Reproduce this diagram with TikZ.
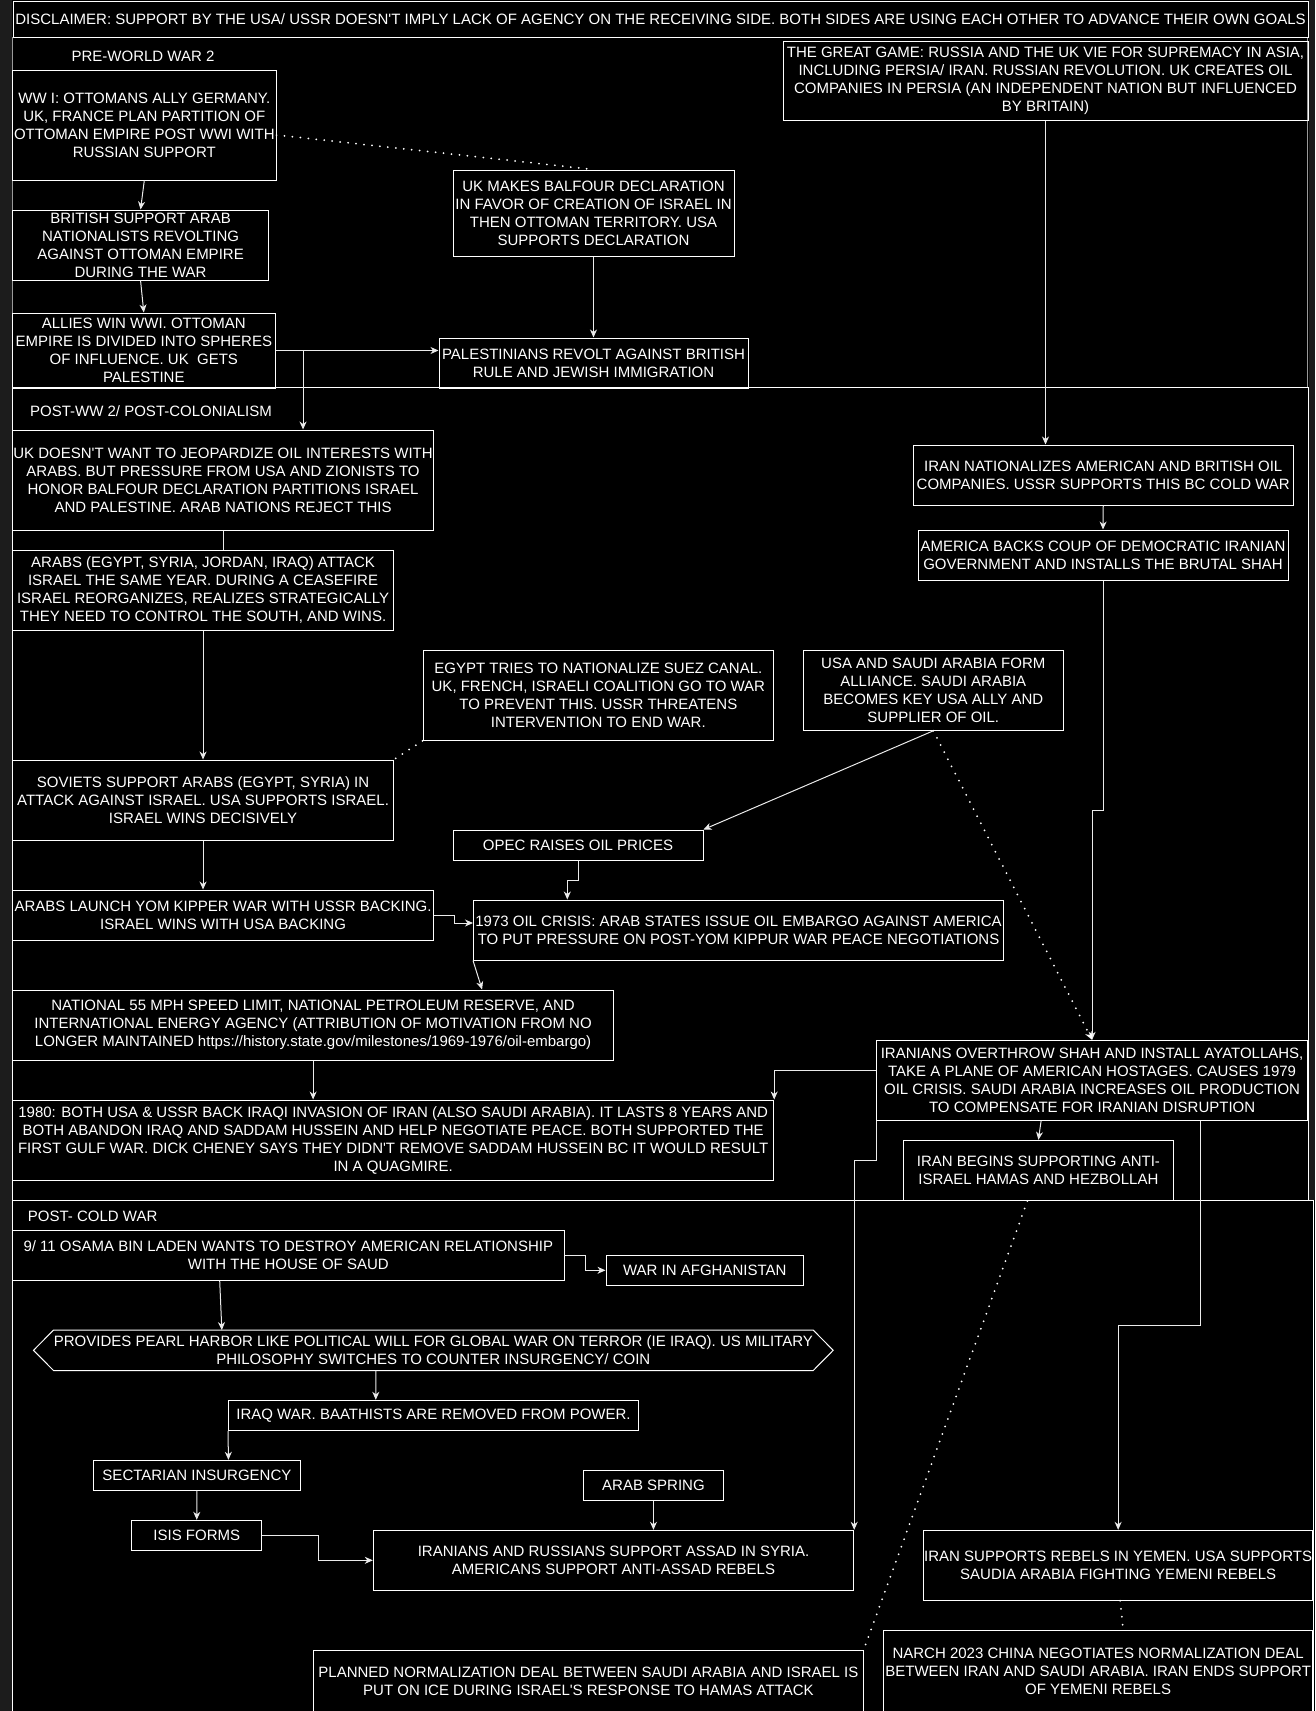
\documentclass[tikz,border=0pt]{standalone}
\usepackage{fontspec}
\setmainfont{Liberation Sans}[Ligatures=TeXOff]
\usetikzlibrary{arrows.meta,calc}
\definecolor{stripc}{HTML}{1C1C1C}
\definecolor{secgray}{HTML}{9A9A9A}
\definecolor{lnc}{HTML}{EBEBEB}
\tikzset{
  box/.style={draw=white, line width=1pt, text=white, align=center, inner sep=0pt, font=\fontsize{15}{18}\selectfont},
  lbl/.style={text=white, inner sep=0pt, align=center, font=\fontsize{15}{18}\selectfont},
  arr/.style={draw=lnc, line width=1pt, -{Stealth[length=8pt,width=7pt,inset=2.5pt]}},
  ln/.style={draw=lnc, line width=1pt},
  dots/.style={draw=white, line width=2pt, line cap=round, dash pattern=on 0pt off 8pt},
  dotsarr/.style={dots, -{Stealth[length=8pt,width=7pt,inset=2.5pt]}},
}
\newcommand\bx[6]{\node[box, minimum width={#4-#2}, minimum height={#5-#3}] (#1) at ({(#2+#4)/2},{(#3+#5)/2}) {#6};}
\begin{document}
\begin{tikzpicture}[x=1pt,y=-1pt]
\useasboundingbox (0,0) rectangle (1315,1711);
\fill[black] (0,0) rectangle (1315,1711);
\fill[stripc] (0,0) rectangle (12,1711);
\fill[stripc] (1309,0) rectangle (1315,1200);

% sections
\draw[secgray, line width=1pt] (12,37.5) rectangle (1307,387.7);
\draw[white, line width=1pt] (12,387.7) rectangle (1308.3,1200);
\draw[white, line width=1pt] (12,1200) rectangle (1313.3,1725);

% disclaimer
\bx{disc}{13}{1}{1308}{37}{DISCLAIMER: SUPPORT BY THE USA/ USSR DOESN'T IMPLY LACK OF AGENCY ON THE RECEIVING SIDE. BOTH SIDES ARE USING EACH OTHER TO ADVANCE THEIR OWN GOALS}

% labels
\node[lbl] (l1) at (143,56) {PRE-WORLD WAR 2};
\node[lbl] (l2) at (151,411) {POST-WW 2/ POST-COLONIALISM};
\node[lbl] (l3) at (92.6,1216) {POST- COLD WAR};

% pre-WW2
\bx{ww1}{12.6}{70}{276}{180}{WW I: OTTOMANS ALLY GERMANY.\\UK, FRANCE PLAN PARTITION OF\\OTTOMAN EMPIRE POST WWI WITH\\RUSSIAN SUPPORT}
\bx{brit}{12.6}{210}{268.5}{280}{BRITISH SUPPORT ARAB\\NATIONALISTS REVOLTING\\AGAINST OTTOMAN EMPIRE\\DURING THE WAR}
\bx{allies}{12.6}{313}{275}{388}{ALLIES WIN WWI. OTTOMAN\\EMPIRE IS DIVIDED INTO SPHERES\\OF INFLUENCE. UK\ \ GETS\\PALESTINE}
\bx{balfour}{453}{170}{734}{256}{UK MAKES BALFOUR DECLARATION\\IN FAVOR OF CREATION OF ISRAEL IN\\THEN OTTOMAN TERRITORY. USA\\SUPPORTS DECLARATION}
\bx{palest}{439}{338}{748}{388}{PALESTINIANS REVOLT AGAINST BRITISH\\RULE AND JEWISH IMMIGRATION}
\bx{game}{783}{41}{1308}{120}{THE GREAT GAME: RUSSIA AND THE UK VIE FOR SUPREMACY IN ASIA,\\INCLUDING PERSIA/ IRAN. RUSSIAN REVOLUTION. UK CREATES OIL\\COMPANIES IN PERSIA (AN INDEPENDENT NATION BUT INFLUENCED\\BY BRITAIN)}

% post-WW2
\bx{ukdoesnt}{12.6}{430}{433.5}{530}{UK DOESN'T WANT TO JEOPARDIZE OIL INTERESTS WITH\\ARABS. BUT PRESSURE FROM USA AND ZIONISTS TO\\HONOR BALFOUR DECLARATION PARTITIONS ISRAEL\\AND PALESTINE. ARAB NATIONS REJECT THIS}
\bx{arabsatk}{12.6}{550}{393.5}{630}{ARABS (EGYPT, SYRIA, JORDAN, IRAQ) ATTACK\\ISRAEL THE SAME YEAR. DURING A CEASEFIRE\\ISRAEL REORGANIZES, REALIZES STRATEGICALLY\\THEY NEED TO CONTROL THE SOUTH, AND WINS.}
\bx{egypt}{423}{650.7}{773.7}{740.3}{EGYPT TRIES TO NATIONALIZE SUEZ CANAL.\\UK, FRENCH, ISRAELI COALITION GO TO WAR\\TO PREVENT THIS. USSR THREATENS\\INTERVENTION TO END WAR.}
\bx{soviets}{12.6}{760}{393.5}{840}{SOVIETS SUPPORT ARABS (EGYPT, SYRIA) IN\\ATTACK AGAINST ISRAEL. USA SUPPORTS ISRAEL.\\ISRAEL WINS DECISIVELY}
\bx{irannat}{913}{445}{1293.5}{505}{IRAN NATIONALIZES AMERICAN AND BRITISH OIL\\COMPANIES. USSR SUPPORTS THIS BC COLD WAR}
\bx{amback}{918}{530}{1288}{580}{AMERICA BACKS COUP OF DEMOCRATIC IRANIAN\\GOVERNMENT AND INSTALLS THE BRUTAL SHAH}
\bx{usasaudi}{803.6}{650.7}{1063}{730.3}{USA AND SAUDI ARABIA FORM\\ALLIANCE. SAUDI ARABIA\\BECOMES KEY USA ALLY AND\\SUPPLIER OF OIL.}
\bx{opec}{453}{830}{703}{860}{OPEC RAISES OIL PRICES}
\bx{arabslaunch}{12.6}{890}{433.5}{940}{ARABS LAUNCH YOM KIPPER WAR WITH USSR BACKING.\\ISRAEL WINS WITH USA BACKING}
\bx{oil73}{473.5}{900}{1003.5}{960}{1973 OIL CRISIS: ARAB STATES ISSUE OIL EMBARGO AGAINST AMERICA\\TO PUT PRESSURE ON POST-YOM KIPPUR WAR PEACE NEGOTIATIONS}
\bx{natl}{12.6}{990}{613.6}{1060.3}{NATIONAL 55 MPH SPEED LIMIT, NATIONAL PETROLEUM RESERVE, AND\\INTERNATIONAL ENERGY AGENCY (ATTRIBUTION OF MOTIVATION FROM NO\\LONGER MAINTAINED https://history.state.gov/milestones/1969-1976/oil-embargo)}
\bx{yr1980}{12.6}{1100}{773.7}{1180.3}{1980: BOTH USA \& USSR BACK IRAQI INVASION OF IRAN (ALSO SAUDI ARABIA). IT LASTS 8 YEARS AND\\BOTH ABANDON IRAQ AND SADDAM HUSSEIN AND HELP NEGOTIATE PEACE. BOTH SUPPORTED THE\\FIRST GULF WAR. DICK CHENEY SAYS THEY DIDN'T REMOVE SADDAM HUSSEIN BC IT WOULD RESULT\\IN A QUAGMIRE.}
\bx{overthrow}{876.8}{1040.3}{1307.4}{1120.3}{IRANIANS OVERTHROW SHAH AND INSTALL AYATOLLAHS,\\TAKE A PLANE OF AMERICAN HOSTAGES. CAUSES 1979\\OIL CRISIS. SAUDI ARABIA INCREASES OIL PRODUCTION\\TO COMPENSATE FOR IRANIAN DISRUPTION}
\bx{iranbegins}{903.3}{1140.3}{1173.5}{1200.5}{IRAN BEGINS SUPPORTING ANTI-\\ISRAEL HAMAS AND HEZBOLLAH}

% post cold war
\bx{nine11}{12.6}{1230.3}{564}{1280.3}{9/ 11 OSAMA BIN LADEN WANTS TO DESTROY AMERICAN RELATIONSHIP\\WITH THE HOUSE OF SAUD}
\bx{afgh}{606}{1255.3}{803.6}{1285.3}{WAR IN AFGHANISTAN}
\node[lbl, minimum width=799.3, minimum height=40] (provides) at (433.35,1350.3) {PROVIDES PEARL HARBOR LIKE POLITICAL WILL FOR GLOBAL WAR ON TERROR (IE IRAQ). US MILITARY\\PHILOSOPHY SWITCHES TO COUNTER INSURGENCY/ COIN};
\draw[white, line width=1pt] (provides.west) -- ([xshift=20]provides.north west) -- ([xshift=-20]provides.north east) -- (provides.east) -- ([xshift=-20]provides.south east) -- ([xshift=20]provides.south west) -- cycle;
\bx{iraqwar}{228.5}{1400.3}{638.5}{1430.3}{IRAQ WAR. BAATHISTS ARE REMOVED FROM POWER.}
\bx{sectarian}{93.4}{1460.3}{300.5}{1490.3}{SECTARIAN INSURGENCY}
\bx{isis}{131.7}{1520.3}{261.8}{1550.3}{ISIS FORMS}
\bx{arabspring}{583.3}{1470.3}{723.6}{1500.3}{ARAB SPRING}
\bx{syria}{373.3}{1530.3}{853.7}{1590.3}{IRANIANS AND RUSSIANS SUPPORT ASSAD IN SYRIA.\\AMERICANS SUPPORT ANTI-ASSAD REBELS}
\bx{yemen}{923.5}{1530.3}{1312.8}{1600.3}{IRAN SUPPORTS REBELS IN YEMEN. USA SUPPORTS\\SAUDIA ARABIA FIGHTING YEMENI REBELS}
\bx{planned}{313.5}{1650}{863.3}{1712}{PLANNED NORMALIZATION DEAL BETWEEN SAUDI ARABIA AND ISRAEL IS\\PUT ON ICE DURING ISRAEL'S RESPONSE TO HAMAS ATTACK}
\bx{narch}{883.5}{1630.3}{1312.8}{1711.5}{NARCH 2023 CHINA NEGOTIATES NORMALIZATION DEAL\\BETWEEN IRAN AND SAUDI ARABIA. IRAN ENDS SUPPORT\\OF YEMENI REBELS}

% connectors pre-WW2
\draw[arr] (ww1.south) -- (brit.north);
\draw[arr] (brit.south) -- (allies.north);
\draw[arr] (allies.east) -- (allies.east -| palest.west);
\draw[arr] (allies.east) -| ([xshift=80]ukdoesnt.north);
\draw[dots] ([yshift=-10]ww1.east) -- (balfour.north);
\draw[arr] (balfour.south) -- (palest.north);
\draw[arr] (game.south) -- (game.south |- irannat.north);

% connectors post-WW2
\draw[ln] (ukdoesnt.south) -- (ukdoesnt.south |- arabsatk.north);
\draw[arr] (arabsatk.south) -- (soviets.north);
\draw[dots] (egypt.south west) -- (soviets.north east);
\draw[arr] (irannat.south) -- (amback.north);
\draw[arr] (amback.south) -- ++(0,230) -| (overthrow.north);
\draw[arr] (usasaudi.south) -- (opec.north east);
\draw[dotsarr] (usasaudi.south) -- (overthrow.north);
\draw[arr] (soviets.south) -- (soviets.south |- arabslaunch.north);
\draw[arr] (arabslaunch.east) -- ++(20,0) |- ([yshift=7]oil73.west);
\draw[arr] (opec.south) -- ++(0,20) -| ([xshift=-171.2]oil73.north);
\draw[arr] (oil73.south west) -- ([xshift=169]natl.north);
\draw[arr] (natl.south) -- (natl.south |- yr1980.north);
\draw[arr] ([yshift=10]overthrow.west) -| (yr1980.north east);
\draw[arr] ([xshift=-51]overthrow.south) -- (iranbegins.north);
\draw[arr] (overthrow.south west) -- ++(0,40) -| (syria.north east);
\draw[arr] ([xshift=108]overthrow.south) -- ++(0,205) -| (yemen.north);
\draw[dots] ([xshift=-11]iranbegins.south) -- (planned.north east);

% connectors post cold war
\draw[arr] (nine11.east) -- ++(21,0) |- (afgh.west);
\draw[arr] ([xshift=-68.6]nine11.south) -- ([xshift=-211.5]provides.north);
\draw[arr] ([xshift=-57.5]provides.south) -- ([xshift=-57.7]iraqwar.north);
\draw[arr] (iraqwar.south west) -- ([xshift=31.5]sectarian.north);
\draw[arr] (sectarian.south) -- (isis.north);
\draw[arr] (isis.east) -- ++(56,0) |- (syria.west);
\draw[arr] (arabspring.south) -- (arabspring.south |- syria.north);
\draw[dots] ([xshift=2]yemen.south) -- ([xshift=25]narch.north);
\end{tikzpicture}
\end{document}
